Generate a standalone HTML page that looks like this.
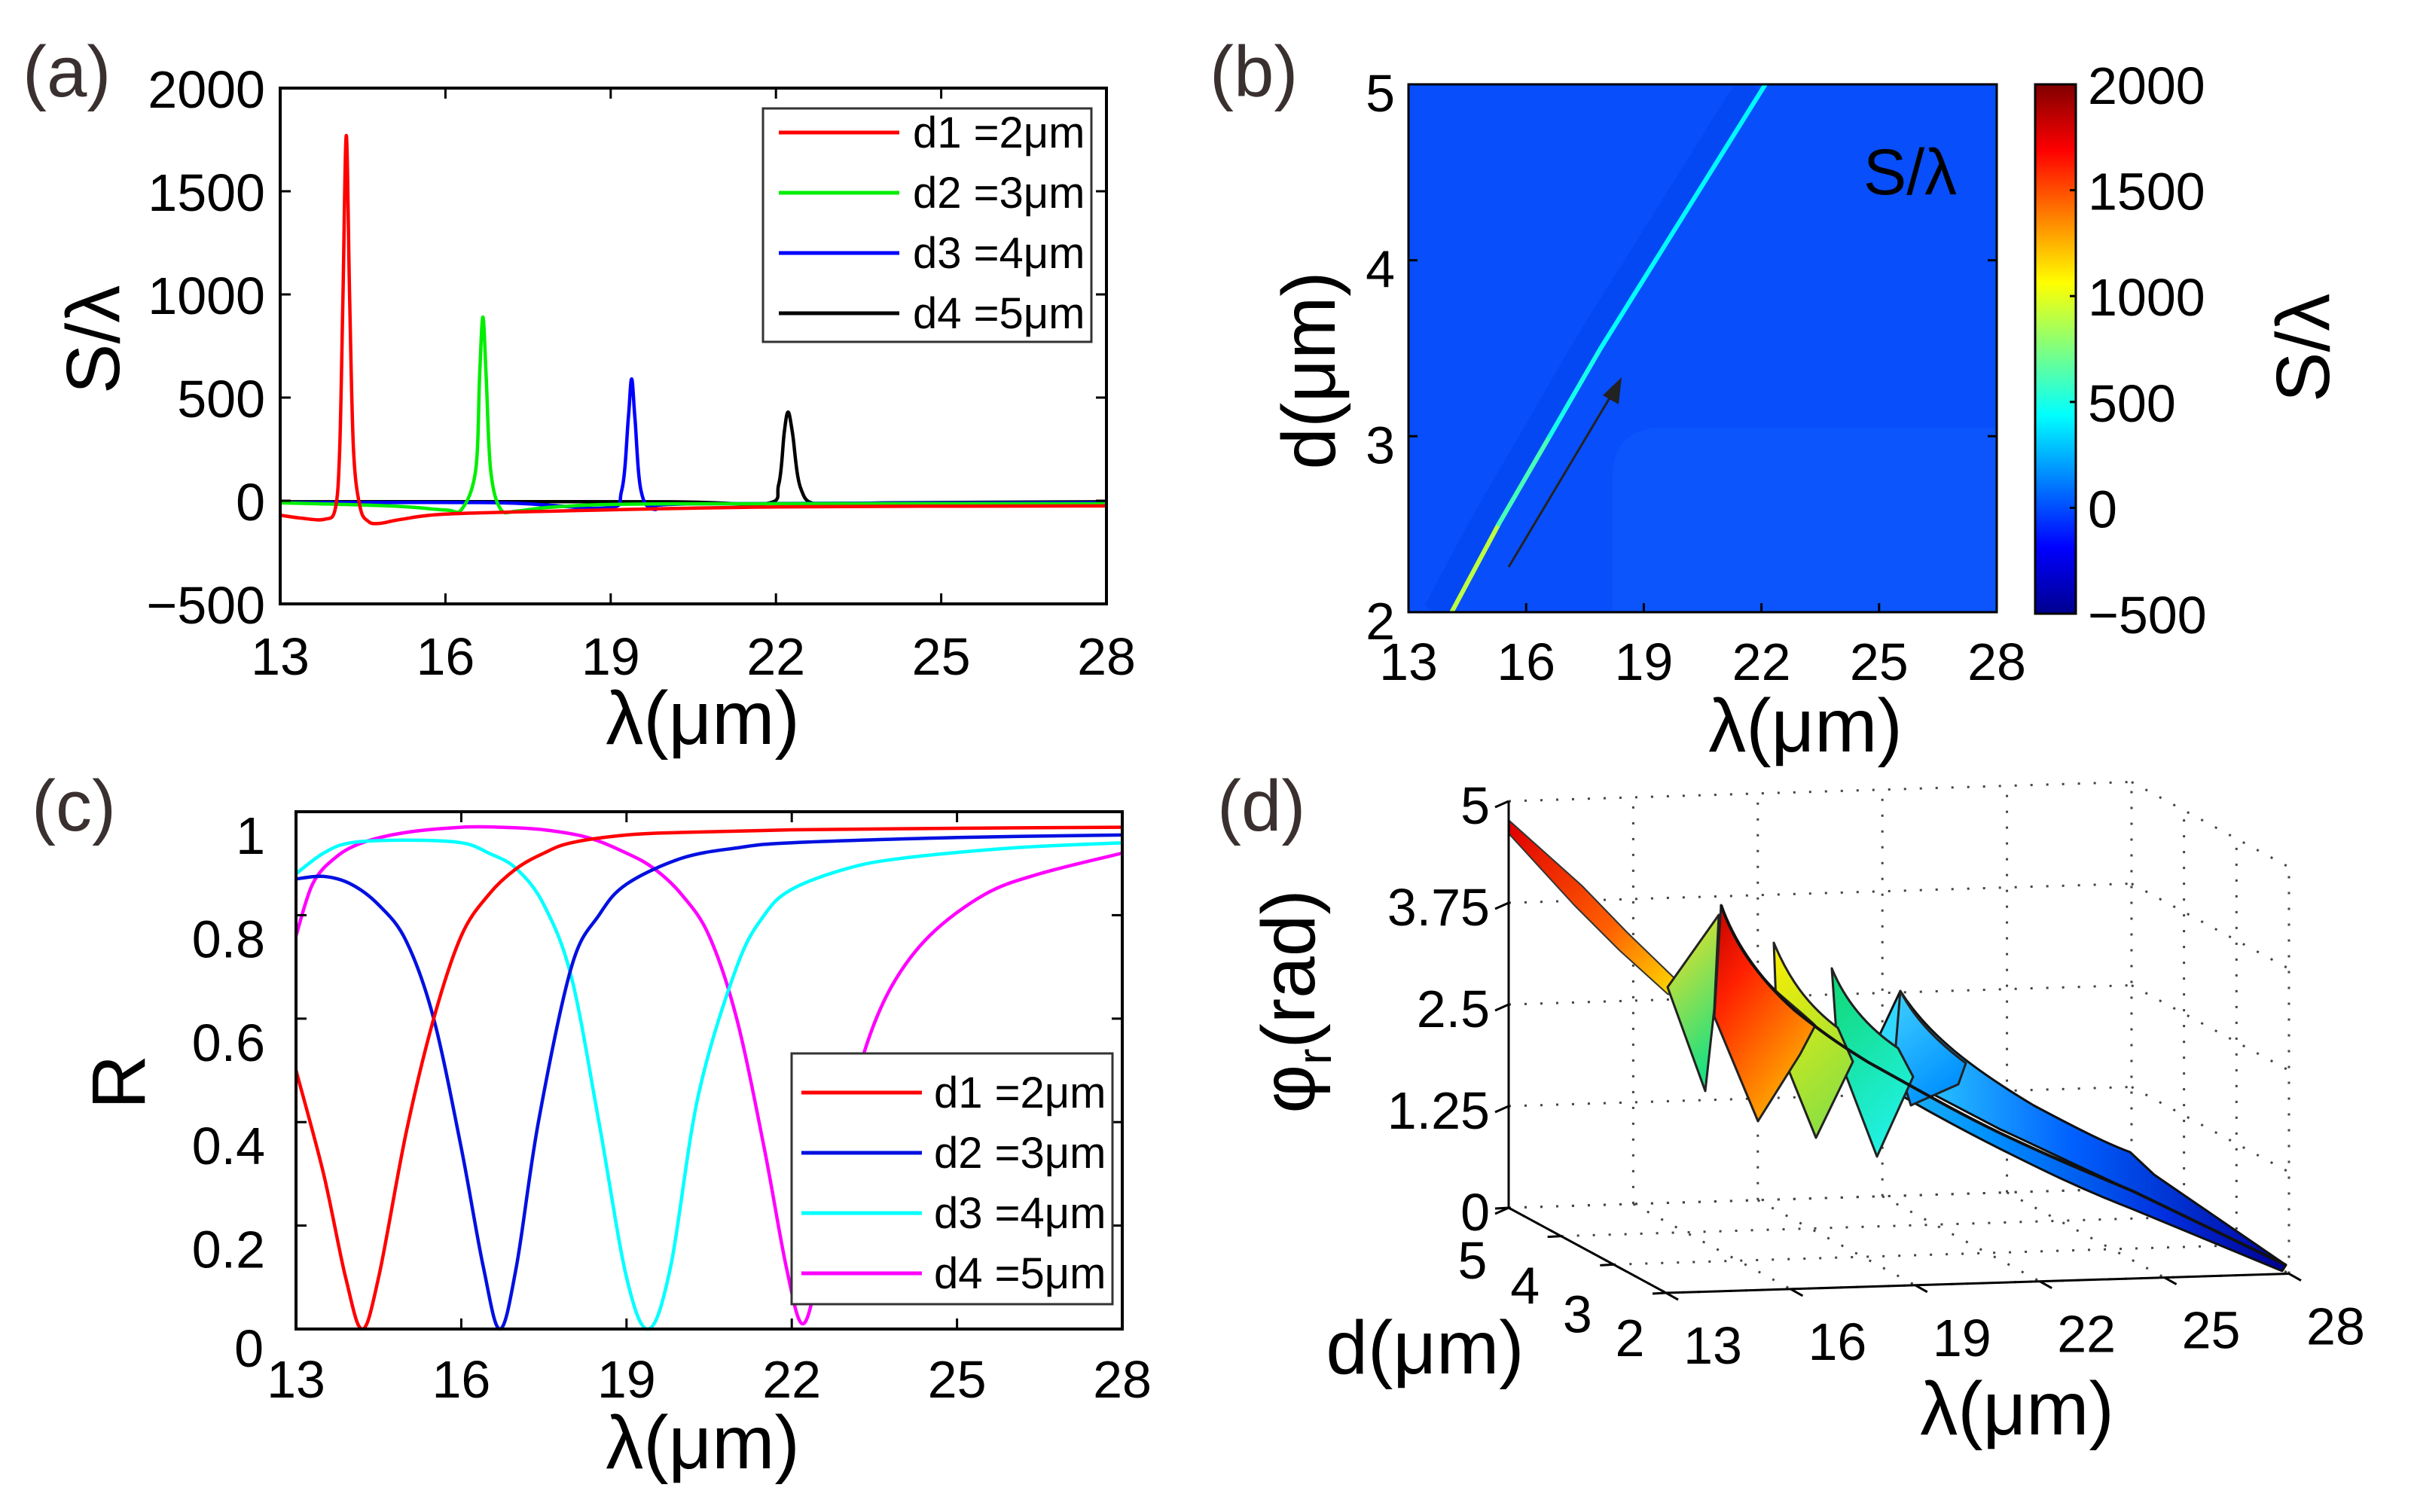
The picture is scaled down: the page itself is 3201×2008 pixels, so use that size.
<!DOCTYPE html>
<html><head><meta charset="utf-8"><style>
html,body{margin:0;padding:0;background:#fff;}
svg{display:block;font-family:"Liberation Sans",Arial,sans-serif;}
</style></head><body>
<svg id="fig" xmlns="http://www.w3.org/2000/svg" width="3201" height="2008" viewBox="0 0 3201 2008">
<defs>
<linearGradient id="jetV" x1="0" y1="1" x2="0" y2="0">
<stop offset="0" stop-color="#00008f"/><stop offset="0.125" stop-color="#0000ff"/><stop offset="0.375" stop-color="#00ffff"/><stop offset="0.625" stop-color="#ffff00"/><stop offset="0.875" stop-color="#ff0000"/><stop offset="1" stop-color="#800000"/>
</linearGradient>
<clipPath id="bClip"><rect x="1870" y="112" width="781" height="701"/></clipPath>
<linearGradient id="gBandBack" x1="2520" y1="0" x2="3035" y2="0" gradientUnits="userSpaceOnUse"><stop offset="0" stop-color="#30d8ff"/><stop offset="0.45" stop-color="#0060ff"/><stop offset="1" stop-color="#0000a0"/></linearGradient>
<linearGradient id="gBandFront" x1="2380" y1="0" x2="3035" y2="0" gradientUnits="userSpaceOnUse"><stop offset="0" stop-color="#40e0e0"/><stop offset="0.4" stop-color="#0090ff"/><stop offset="0.75" stop-color="#0030e0"/><stop offset="1" stop-color="#000090"/></linearGradient>
<linearGradient id="gRed" x1="0" y1="0" x2="0.6" y2="1"><stop offset="0" stop-color="#c00000"/><stop offset="0.35" stop-color="#ff2000"/><stop offset="1" stop-color="#ffb000"/></linearGradient>
<linearGradient id="gYel" x1="0" y1="0" x2="0.4" y2="1"><stop offset="0" stop-color="#ffee00"/><stop offset="1" stop-color="#90e040"/></linearGradient>
<linearGradient id="gGrn" x1="0" y1="0" x2="0.4" y2="1"><stop offset="0" stop-color="#10d870"/><stop offset="1" stop-color="#20f0e0"/></linearGradient>
<linearGradient id="gCyn" x1="0" y1="0" x2="0.5" y2="1"><stop offset="0" stop-color="#40d0ff"/><stop offset="1" stop-color="#0090ff"/></linearGradient>
<linearGradient id="gLeft" x1="0" y1="0" x2="0.3" y2="1"><stop offset="0" stop-color="#ffe020"/><stop offset="1" stop-color="#20e080"/></linearGradient>
<linearGradient id="gThin" x1="2005" y1="1096" x2="2230" y2="1320" gradientUnits="userSpaceOnUse"><stop offset="0" stop-color="#e00000"/><stop offset="0.6" stop-color="#ff6000"/><stop offset="1" stop-color="#ffe000"/></linearGradient>
</defs>
<g id="root"></g>
</svg>
<script>
// ---------- Panel (a) data ----------
const aSeriesNames = ["d1 =2\u03bcm","d2 =3\u03bcm","d3 =4\u03bcm","d4 =5\u03bcm"];
const aColors = ["#ff0000","#00ee00","#0000ff","#000000"];
const aRedL = [13,13.4,13.8,14.0,14.08,14.14,14.2,14.26,14.33,14.45,14.6,14.8,15.2,16,18,22,28];
const aRedS = [-70,-85,-90,-40,250,1000,1770,1000,250,-30,-100,-110,-90,-65,-50,-30,-25];
const aGreenL = [13,15,16,16.3,16.55,16.62,16.68,16.74,16.82,17.0,17.3,18,20,28];
const aGreenS = [-10,-25,-45,-40,150,600,890,600,150,-40,-50,-30,-15,-15];
const aBlueL = [13,17,18.9,19.2,19.32,19.38,19.44,19.55,19.8,20.5,28];
const aBlueS = [-10,-10,-35,50,400,590,400,50,-40,-15,-10];
const aBlackL = [13,20,21.8,22.05,22.15,22.22,22.3,22.45,22.8,24,28];
const aBlackS = [-5,-5,-15,80,330,430,330,60,-20,-10,-5];
const aYTicks = [-500,0,500,1000,1500,2000];
const aXTicks = [13,16,19,22,25,28];

// ---------- Panel (b) data ----------
const bRidgeD = [2,2.5,3,3.5,4,4.5,5];
const bRidgeL = [14.1,15.3,16.6,17.9,19.3,20.7,22.1];
const bRidgeV = [1100,700,520,460,430,420,420];
const bYTicks = [2,3,4,5];
const bCbTicks = [-500,0,500,1000,1500,2000];

// ---------- Panel (c) data ----------
const cSeriesNames = ["d1 =2\u03bcm","d2 =3\u03bcm","d3 =4\u03bcm","d4 =5\u03bcm"];
const cColors = ["#ff0000","#0010e0","#00ffff","#ff00ff"];
const cRedL = [13,13.5,13.9,14.2,14.5,15,15.5,16,16.5,17,17.5,18,19,20,22,25,28];
const cRedR = [0.5,0.3,0.1,0,0.1,0.38,0.6,0.76,0.84,0.89,0.92,0.94,0.955,0.96,0.965,0.968,0.97];
const cBlueL = [13,13.5,14,14.5,15,15.5,16,16.4,16.7,17,17.4,18,18.5,19,20,21,22,25,28];
const cBlueR = [0.87,0.875,0.86,0.82,0.75,0.6,0.35,0.12,0,0.12,0.4,0.7,0.8,0.86,0.91,0.93,0.94,0.95,0.955];
const cCyanL = [13,13.5,14,15,16,16.5,17,17.5,18,18.5,19,19.4,19.8,20.3,21,21.5,22,23,24,26,28];
const cCyanR = [0.88,0.92,0.94,0.945,0.94,0.92,0.89,0.82,0.68,0.4,0.1,0,0.12,0.45,0.7,0.8,0.85,0.89,0.91,0.93,0.94];
const cMagL = [13,13.3,13.7,14.2,15,16,16.7,17.5,18.3,19,19.5,20,20.5,21,21.5,21.9,22.2,22.5,22.9,23.3,23.8,24.5,25.5,26.5,28];
const cMagR = [0.76,0.86,0.91,0.94,0.96,0.97,0.97,0.965,0.95,0.92,0.89,0.84,0.76,0.6,0.35,0.12,0.01,0.12,0.35,0.53,0.66,0.76,0.84,0.88,0.92];
const cYTicks = [0,0.2,0.4,0.6,0.8,1];
const cYLabels = ["0","0.2","0.4","0.6","0.8","1"];

// ---------- Panel (d) axis data ----------
const dZTicks = [0,1.25,2.5,3.75,5];
const dZLabels = ["0","1.25","2.5","3.75","5"];
const dDTicks = [2,3,4,5];
const dLTicks = [13,16,19,22,25,28];

const NS = "http://www.w3.org/2000/svg";
const root = document.getElementById("root");
function mk(tag, attrs, parent){
  const e = document.createElementNS(NS, tag);
  for (const k in attrs) e.setAttribute(k, attrs[k]);
  (parent||root).appendChild(e);
  return e;
}
function txt(s, attrs, parent){
  const e = mk("text", attrs, parent);
  e.textContent = s;
  return e;
}
function smooth(pts){
  let d = "M" + pts[0][0].toFixed(1) + "," + pts[0][1].toFixed(1);
  for (let i=0;i<pts.length-1;i++){
    const p0=pts[i-1]||pts[i], p1=pts[i], p2=pts[i+1], p3=pts[i+2]||pts[i+1];
    const c1=[p1[0]+(p2[0]-p0[0])/6, p1[1]+(p2[1]-p0[1])/6];
    const c2=[p2[0]-(p3[0]-p1[0])/6, p2[1]-(p3[1]-p1[1])/6];
    d += " C"+c1[0].toFixed(1)+","+c1[1].toFixed(1)+" "+c2[0].toFixed(1)+","+c2[1].toFixed(1)+" "+p2[0].toFixed(1)+","+p2[1].toFixed(1);
  }
  return d;
}
function jet(v){
  const f = Math.max(0, Math.min(1, (v+500)/2500));
  const r = Math.max(0, Math.min(1, 1.5 - Math.abs(4*f-3)));
  const g = Math.max(0, Math.min(1, 1.5 - Math.abs(4*f-2)));
  const b = Math.max(0, Math.min(1, 1.5 - Math.abs(4*f-1)));
  return "rgb("+Math.round(r*255)+","+Math.round(g*255)+","+Math.round(b*255)+")";
}
const TF = 70, TT = 100;

// =============== PANEL A ===============
const gA = mk("g", {});


const aL=372, aR=1469, aT=117, aB=802;
const ax = l => aL + (l-13)/15*(aR-aL);
const ay = v => aB - (v+500)/2500*(aB-aT);
const aLabel = txt("(a)", {x:30, y:128, "font-size":96, fill:"#3a3030"}, gA);


const aSeries = [[aRedL,aRedS],[aGreenL,aGreenS],[aBlueL,aBlueS],[aBlackL,aBlackS]];
const aIds = ["a-curve-d1","a-curve-d2","a-curve-d3","a-curve-d4"];
[3,2,1,0].forEach(i=>{
  const pts = aSeries[i][0].map((l,j)=>[ax(l), ay(aSeries[i][1][j])]);
  const p = mk("path", {d:smooth(pts), fill:"none", stroke:aColors[i], "stroke-width":4.5, "stroke-linejoin":"round"}, gA);
  
  
});
const aBox = mk("rect", {x:aL, y:aT, width:aR-aL, height:aB-aT, fill:"none", stroke:"#000", "stroke-width":4}, gA);


aYTicks.forEach(v=>{
  const y = ay(v);
  mk("line", {x1:aL, y1:y, x2:aL+14, y2:y, stroke:"#000", "stroke-width":3}, gA);
  mk("line", {x1:aR, y1:y, x2:aR-14, y2:y, stroke:"#000", "stroke-width":3}, gA);
  const t = txt(v<0?"\u2212"+(-v):String(v), {x:352, y:y+26, "font-size":TF, "text-anchor":"end"}, gA);
  
  
});
aXTicks.forEach(v=>{
  const x = ax(v);
  mk("line", {x1:x, y1:aB, x2:x, y2:aB-14, stroke:"#000", "stroke-width":3}, gA);
  mk("line", {x1:x, y1:aT, x2:x, y2:aT+14, stroke:"#000", "stroke-width":3}, gA);
  const t = txt(String(v), {x:x, y:896, "font-size":TF, "text-anchor":"middle"}, gA);
  
  
});
const aXT = txt("\u03bb(\u03bcm)", {x:933, y:988, "font-size":TT, "text-anchor":"middle"}, gA);


const aYT = txt("S/\u03bb", {x:0, y:0, "font-size":TT, "text-anchor":"middle", transform:"translate(158,451) rotate(-90)"}, gA);


const aLeg = mk("g", {}, gA);


mk("rect", {x:1013, y:144, width:436, height:310, fill:"#fff", stroke:"#333", "stroke-width":3}, aLeg);
aSeriesNames.forEach((n,i)=>{
  const y = 176 + i*80;
  mk("line", {x1:1034, y1:y, x2:1194, y2:y, stroke:aColors[i], "stroke-width":5}, aLeg);
  const t = txt(n, {x:1212, y:y+20, "font-size":58}, aLeg);
  
  
});

// =============== PANEL B ===============
const gB = mk("g", {});


const bL=1870, bR=2651, bT=112, bB=813;
const bx = l => bL + (l-13)/15*(bR-bL);
const by = d => bB - (d-2)/3*(bB-bT);
const bLabel = txt("(b)", {x:1606, y:128, "font-size":96, fill:"#3a3030"}, gB);


const bHeat = mk("g", {"clip-path":"url(#bClip)"}, gB);


const bBg = mk("rect", {x:bL, y:bT, width:bR-bL, height:bB-bT, fill:"rgb(8,78,250)"}, bHeat);


const bLight = mk("path", {d:"M"+bx(18.2)+","+by(2)+" L"+bx(18.2)+","+by(2.8)+" Q"+bx(18.3)+","+by(3.05)+" "+bx(19.5)+","+by(3.05)+" L"+bR+","+by(3.05)+" L"+bR+","+by(2)+" Z", fill:"rgb(12,84,252)"}, bHeat);


const shoulder = bRidgeD.map((d,i)=>[bx(bRidgeL[i])-20, by(d)]);
const bSh = mk("path", {d:smooth(shoulder), fill:"none", stroke:"rgb(4,72,244)", "stroke-width":36}, bHeat);


for (let i=0;i<bRidgeD.length-1;i++){
  const seg = mk("line", {x1:bx(bRidgeL[i]), y1:by(bRidgeD[i]), x2:bx(bRidgeL[i+1]), y2:by(bRidgeD[i+1]), stroke:jet((bRidgeV[i]+bRidgeV[i+1])/2), "stroke-width":6, "stroke-linecap":"round"}, bHeat);
  
  
}
const bArrow = mk("g", {}, gB);


mk("line", {x1:2003, y1:753, x2:2141, y2:522, stroke:"#222", "stroke-width":3}, bArrow);
mk("polygon", {points:"2153,501 2128,525 2149,537", fill:"#222"}, bArrow);
const bIn = txt("S/\u03bb", {x:2536, y:258, "font-size":86, "text-anchor":"middle"}, gB);


const bBox = mk("rect", {x:bL, y:bT, width:bR-bL, height:bB-bT, fill:"none", stroke:"#000", "stroke-width":3}, gB);


bYTicks.forEach(v=>{
  const y = by(v);
  mk("line", {x1:bL, y1:y, x2:bL+12, y2:y, stroke:"#000", "stroke-width":3}, gB);
  mk("line", {x1:bR, y1:y, x2:bR-12, y2:y, stroke:"#000", "stroke-width":3}, gB);
  const t = txt(String(v), {x:1852, y:y+36, "font-size":TF, "text-anchor":"end"}, gB);
  
  
});
aXTicks.forEach(v=>{
  const x = bx(v);
  mk("line", {x1:x, y1:bB, x2:x, y2:bB-12, stroke:"#000", "stroke-width":3}, gB);
  const t = txt(String(v), {x:x, y:903, "font-size":TF, "text-anchor":"middle"}, gB);
  
  
});
const bXT = txt("\u03bb(\u03bcm)", {x:2397, y:998, "font-size":TT, "text-anchor":"middle"}, gB);


const bYT = txt("d(\u03bcm)", {x:0, y:0, "font-size":TT, "text-anchor":"middle", transform:"translate(1772,492) rotate(-90)"}, gB);


const cbT=112, cbB=815, cbL=2702, cbR=2756;
const cbY = v => cbB - (v+500)/2500*(cbB-cbT);
const cb = mk("rect", {x:cbL, y:cbT, width:cbR-cbL, height:cbB-cbT, fill:"url(#jetV)", stroke:"#000", "stroke-width":3}, gB);


bCbTicks.forEach(v=>{
  const y = cbY(v);
  mk("line", {x1:cbR, y1:y, x2:cbR-8, y2:y, stroke:"#000", "stroke-width":3}, gB);
  const t = txt(v<0?"\u2212"+(-v):String(v), {x:2772, y:y+26, "font-size":TF}, gB);
  
  
});
const cbTitle = txt("S/\u03bb", {x:0, y:0, "font-size":TT, "text-anchor":"middle", transform:"translate(3092,462) rotate(-90)"}, gB);



// =============== PANEL C ===============
const gC = mk("g", {});


const cL=393, cR=1490, cT=1078, cB=1765;
const cx = l => cL + (l-13)/15*(cR-cL);
const cy = v => cB - v*(cB-cT);
const cLabel = txt("(c)", {x:42, y:1103, "font-size":96, fill:"#3a3030"}, gC);


const cSeries = [[cRedL,cRedR],[cBlueL,cBlueR],[cCyanL,cCyanR],[cMagL,cMagR]];
const cIds = ["c-curve-d1","c-curve-d2","c-curve-d3","c-curve-d4"];
[3,2,1,0].forEach(i=>{
  const pts = cSeries[i][0].map((l,j)=>[cx(l), cy(cSeries[i][1][j])]);
  const p = mk("path", {d:smooth(pts), fill:"none", stroke:cColors[i], "stroke-width":4.5, "stroke-linejoin":"round"}, gC);
  
  
});
const cBox = mk("rect", {x:cL, y:cT, width:cR-cL, height:cB-cT, fill:"none", stroke:"#000", "stroke-width":4}, gC);


cYTicks.forEach((v,i)=>{
  const y = cy(v);
  mk("line", {x1:cL, y1:y, x2:cL+14, y2:y, stroke:"#000", "stroke-width":3}, gC);
  mk("line", {x1:cR, y1:y, x2:cR-14, y2:y, stroke:"#000", "stroke-width":3}, gC);
  const t = txt(cYLabels[i], {x:i===0?350:352, y:y+(i===0?50:56), "font-size":TF, "text-anchor":"end"}, gC);
  
  
});
aXTicks.forEach(v=>{
  const x = cx(v);
  mk("line", {x1:x, y1:cB, x2:x, y2:cB-14, stroke:"#000", "stroke-width":3}, gC);
  mk("line", {x1:x, y1:cT, x2:x, y2:cT+14, stroke:"#000", "stroke-width":3}, gC);
  const t = txt(String(v), {x:x, y:1856, "font-size":TF, "text-anchor":"middle"}, gC);
  
  
});
const cXT = txt("\u03bb(\u03bcm)", {x:933, y:1950, "font-size":TT, "text-anchor":"middle"}, gC);


const cYT = txt("R", {x:0, y:0, "font-size":TT, "text-anchor":"middle", transform:"translate(192,1437) rotate(-90)"}, gC);


const cLeg = mk("g", {}, gC);


mk("rect", {x:1051, y:1399, width:426, height:333, fill:"#fff", stroke:"#333", "stroke-width":3}, cLeg);
cSeriesNames.forEach((n,i)=>{
  const y = 1451 + i*80;
  mk("line", {x1:1064, y1:y, x2:1224, y2:y, stroke:cColors[i], "stroke-width":5}, cLeg);
  const t = txt(n, {x:1240, y:y+20, "font-size":58}, cLeg);
  
  
});

// =============== PANEL D ===============
const gD = mk("g", {});


const P = (l,d,z) => [2003 + (l-13)*55.13 + (5-d)*69.67, 1604 - (l-13)*1.7 + (5-d)*37.67 - z*108];
const dLabel = txt("(d)", {x:1616, y:1103, "font-size":96, fill:"#3a3030"}, gD);


const grid = mk("g", {stroke:"#444", "stroke-width":3, "stroke-dasharray":"3 18", fill:"none"}, gD);


function gl(a,b){ mk("line", {x1:a[0],y1:a[1],x2:b[0],y2:b[1]}, grid); }
dZTicks.forEach(z=>{ gl(P(13,5,z),P(28,5,z)); gl(P(28,5,z),P(28,2,z)); });
dLTicks.forEach(l=>{ gl(P(l,5,0),P(l,5,5)); gl(P(l,5,0),P(l,2,0)); });
dDTicks.forEach(d=>{ gl(P(28,d,0),P(28,d,5)); gl(P(13,d,0),P(28,d,0)); });

const surf = mk("g", {"stroke-linejoin":"round"}, gD);


mk("path", {d:"M2004,1090 L2100,1176 L2160,1238 L2222,1298 L2234,1326 L2214,1320 L2150,1262 L2090,1202 L2004,1108 Z", fill:"url(#gThin)", stroke:"#333", "stroke-width":2}, surf);
mk("path", {d:"M2523,1316 C2560,1375 2620,1420 2700,1468 C2760,1500 2800,1520 2828,1530 L2860,1560 L3035,1680 C2950,1640 2900,1615 2832,1582 C2750,1545 2690,1515 2656,1500 C2580,1460 2520,1430 2481,1405 Z", fill:"url(#gBandBack)", stroke:"#111", "stroke-width":3}, surf);
mk("path", {d:"M2383,1345 C2420,1372 2450,1392 2481,1410 C2560,1455 2600,1478 2656,1505 C2720,1536 2780,1560 2832,1582 L3035,1680 L3030,1688 C2950,1655 2890,1630 2832,1606 C2760,1578 2710,1553 2656,1526 C2580,1488 2530,1458 2481,1430 C2440,1406 2410,1385 2383,1362 Z", fill:"url(#gBandFront)", stroke:"#111", "stroke-width":3}, surf);
mk("path", {d:"M2523,1316 C2540,1350 2570,1382 2610,1412 L2600,1440 L2537,1468 L2516,1400 Z", fill:"url(#gCyn)", stroke:"#222", "stroke-width":3}, surf);
mk("path", {d:"M2432,1286 C2450,1330 2480,1365 2520,1392 L2540,1430 L2492,1536 L2440,1400 Z", fill:"url(#gGrn)", stroke:"#222", "stroke-width":3}, surf);
mk("path", {d:"M2355,1252 C2375,1300 2400,1335 2440,1365 L2460,1410 L2411,1511 L2360,1385 Z", fill:"url(#gYel)", stroke:"#222", "stroke-width":3}, surf);
mk("path", {d:"M2214,1311 L2282,1215 L2276,1340 L2264,1449 Z", fill:"url(#gLeft)", stroke:"#222", "stroke-width":3}, surf);
mk("path", {d:"M2285,1202 C2300,1245 2320,1280 2360,1318 C2385,1340 2400,1352 2410,1362 L2390,1400 L2334,1489 L2276,1350 Z", fill:"url(#gRed)", stroke:"#222", "stroke-width":3}, surf);
mk("path", {d:"M2285,1202 C2300,1245 2330,1295 2383,1342 C2430,1380 2460,1398 2481,1411 C2560,1455 2600,1478 2656,1505 C2730,1540 2780,1560 2832,1582 L3035,1680", fill:"none", stroke:"#111", "stroke-width":4}, surf);

const dAx = mk("g", {stroke:"#000", "stroke-width":3, fill:"none"}, gD);


function al(a,b){ mk("line", {x1:a[0],y1:a[1],x2:b[0],y2:b[1]}, dAx); }
al(P(13,5,0),P(13,5,5)); al(P(13,5,0),P(13,2,0)); al(P(13,2,0),P(28,2,0));
dZTicks.forEach((z,i)=>{
  const p = P(13,5,z);
  al([p[0]-18,p[1]+8], p);
  const t = txt(dZLabels[i], {x:1978, y:p[1]+30, "font-size":TF, "text-anchor":"end"}, gD);
  
  
});
dLTicks.forEach(l=>{
  const p = P(l,2,0);
  al(p, [p[0]+16, p[1]+9]);
  const t = txt(String(l), {x:p[0]+62, y:p[1]+94, "font-size":TF, "text-anchor":"middle"}, gD);
  
  
});
dDTicks.forEach(d=>{
  const p = P(13,d,0);
  al(p, [p[0]-18, p[1]+1]);
  const t = txt(String(d), {x:p[0]-48, y:p[1]+(d===2?84:(d===5?94:90)), "font-size":TF, "text-anchor":"middle"}, gD);
  
  
});
const dXT = txt("\u03bb(\u03bcm)", {x:2678, y:1905, "font-size":TT, "text-anchor":"middle"}, gD);


const dDT = txt("d(\u03bcm)", {x:1892, y:1824, "font-size":TT, "text-anchor":"middle"}, gD);


const dZT = txt("", {x:0, y:0, "font-size":TT, "text-anchor":"middle", transform:"translate(1745,1330) rotate(-90)"}, gD);


const s1 = document.createElementNS(NS,"tspan"); s1.textContent="\u03c6"; dZT.appendChild(s1);
const s2 = document.createElementNS(NS,"tspan"); s2.setAttribute("font-size","64"); s2.setAttribute("dy","22"); s2.textContent="r"; dZT.appendChild(s2);
const s3 = document.createElementNS(NS,"tspan"); s3.setAttribute("dy","-22"); s3.textContent="(rad)"; dZT.appendChild(s3);
</script>
</body></html>
